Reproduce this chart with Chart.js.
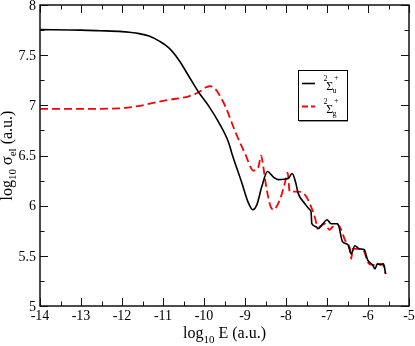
<!DOCTYPE html>
<html>
<head>
<meta charset="utf-8">
<script src="https://cdn.jsdelivr.net/npm/chart.js@4/dist/chart.umd.min.js"></script>
<style>
  body { margin: 0; background: #fff; }
  canvas { display: block; }
</style>
</head>
<body>
<canvas id="crossChart" width="415" height="346"></canvas>
<script>
// 2Sigma_u+ (solid black)
const blackX = [-14, -13, -12.55, -12, -11.82, -11.58, -11.34, -11.09, -10.85, -10.61, -10.37, -10.13, -9.88, -9.64, -9.40,
  -9.32, -9.08, -8.92, -8.81, -8.71, -8.59, -8.45, -8.32, -8.19, -7.95, -7.85, -7.77, -7.70, -7.54, -7.42,
  -7.39, -7.37, -7.26, -7.22, -7.10, -7.00, -6.90, -6.74, -6.62, -6.49, -6.41, -6.32, -6.21, -6.09, -6.01,
  -5.89, -5.83, -5.77, -5.69, -5.62, -5.57];
const blackY = [7.755, 7.75, 7.744, 7.735, 7.728, 7.715, 7.69, 7.64, 7.57, 7.45, 7.29, 7.13, 6.99, 6.83, 6.63,
  6.52, 6.23, 6.03, 5.96, 6.01, 6.19, 6.34, 6.29, 6.26, 6.27, 6.32, 6.24, 6.12, 6.02, 5.96,
  5.94, 5.82, 5.79, 5.77, 5.82, 5.86, 5.82, 5.82, 5.64, 5.61, 5.52, 5.60, 5.57, 5.56, 5.46,
  5.41, 5.37, 5.42, 5.41, 5.42, 5.32];

// 2Sigma_g+ (dashed red)
const redX = [-14, -13, -12.06, -11.58, -10.93, -10.37, -10.13, -9.95, -9.84, -9.74, -9.68, -9.48, -9.24,
  -9.00, -8.79, -8.67, -8.61, -8.55, -8.51, -8.39, -8.31, -8.15, -8.03, -7.96, -7.91, -7.70, -7.54, -7.42,
  -7.30, -7.24, -7.18, -7.06, -6.94, -6.86, -6.74, -6.54, -6.43, -6.41, -6.37, -6.21, -6.09, -6.01,
  -5.89, -5.80, -5.73, -5.65, -5.57];
const redY = [6.965, 6.965, 6.97, 6.995, 7.05, 7.09, 7.13, 7.18, 7.19, 7.17, 7.14, 6.99, 6.74,
  6.52, 6.35, 6.39, 6.50, 6.38, 6.26, 6.01, 5.96, 6.06, 6.22, 6.33, 6.14, 6.14, 6.11, 6.02,
  5.89, 5.80, 5.79, 5.82, 5.76, 5.79, 5.81, 5.64, 5.55, 5.47, 5.57, 5.57, 5.54, 5.44,
  5.41, 5.41, 5.42, 5.42, 5.32];

const xTicks = [-14, -13, -12, -11, -10, -9, -8, -7, -6, -5];
const xTickLabels = ['-14', '-13', '-12', '-11', '-10', '-9', '-8', '-7', '-6', '-5'];
const yTicks = [5, 5.5, 6, 6.5, 7, 7.5, 8];
const yTickLabels = ['5', '5.5', '6', '6.5', '7', '7.5', '8'];

const xTitle = [['log', ''], ['10', 'sub'], [' E (a.u.)', '']];
const yTitle = [['log', ''], ['10', 'sub'], [' σ', ''], ['el', 'sub'], [' (a.u.)', '']];
const legendSubs = ['u', 'g'];

const serif = '"Liberation Serif", "DejaVu Serif", serif';

function toPoints(xs, ys) {
  return xs.map((x, i) => ({ x: x, y: ys[i] }));
}

function partFont(kind, size) {
  return (kind ? Math.round(size * 0.68) : size) + 'px ' + serif;
}

function partsWidth(ctx, parts, size) {
  let w = 0;
  parts.forEach(p => { ctx.font = partFont(p[1], size); w += ctx.measureText(p[0]).width; });
  return w;
}

function drawParts(ctx, parts, x, y, size) {
  parts.forEach(p => {
    ctx.font = partFont(p[1], size);
    const dy = p[1] === 'sub' ? size * 0.3 : (p[1] === 'sup' ? -size * 0.4 : 0);
    ctx.fillText(p[0], x, y + dy);
    x += ctx.measureText(p[0]).width;
  });
}

const framePlugin = {
  id: 'frame',
  afterDatasetsDraw(chart) {
    const { ctx, chartArea: a, scales } = chart;
    const sx = scales.x, sy = scales.y;
    ctx.save();
    ctx.strokeStyle = '#111';
    ctx.lineWidth = 1.5;
    ctx.setLineDash([]);
    ctx.strokeRect(a.left, a.top, a.right - a.left, a.bottom - a.top);

    // ticks on all four sides, minor ticks halfway
    ctx.lineWidth = 1;
    ctx.beginPath();
    xTicks.forEach((v, i) => {
      const px = Math.round(sx.getPixelForValue(v)) + 0.5;
      ctx.moveTo(px, a.bottom); ctx.lineTo(px, a.bottom - 8);
      ctx.moveTo(px, a.top); ctx.lineTo(px, a.top + 8);
      if (i < xTicks.length - 1) {
        const mx = Math.round(sx.getPixelForValue((v + xTicks[i + 1]) / 2)) + 0.5;
        ctx.moveTo(mx, a.bottom); ctx.lineTo(mx, a.bottom - 4.5);
        ctx.moveTo(mx, a.top); ctx.lineTo(mx, a.top + 4.5);
      }
    });
    yTicks.forEach((v, i) => {
      const py = Math.round(sy.getPixelForValue(v)) + 0.5;
      ctx.moveTo(a.left, py); ctx.lineTo(a.left + 8, py);
      ctx.moveTo(a.right, py); ctx.lineTo(a.right - 8, py);
      if (i < yTicks.length - 1) {
        const my = Math.round(sy.getPixelForValue((v + yTicks[i + 1]) / 2)) + 0.5;
        ctx.moveTo(a.left, my); ctx.lineTo(a.left + 4.5, my);
        ctx.moveTo(a.right, my); ctx.lineTo(a.right - 4.5, my);
      }
    });
    ctx.stroke();

    // tick labels
    ctx.fillStyle = '#000';
    ctx.font = '14px ' + serif;
    ctx.textAlign = 'center';
    ctx.textBaseline = 'alphabetic';
    xTicks.forEach((v, i) => ctx.fillText(xTickLabels[i], sx.getPixelForValue(v), a.bottom + 14));
    ctx.textAlign = 'right';
    ctx.textBaseline = 'middle';
    yTicks.forEach((v, i) => ctx.fillText(yTickLabels[i], a.left - 4, sy.getPixelForValue(v) + 1));

    // axis titles
    ctx.textAlign = 'left';
    ctx.textBaseline = 'alphabetic';
    const tw = partsWidth(ctx, xTitle, 16);
    drawParts(ctx, xTitle, (a.left + a.right) / 2 - tw / 2, 338, 16);
    ctx.save();
    ctx.translate(11.5, (a.top + a.bottom) / 2);
    ctx.rotate(-Math.PI / 2);
    const yw = partsWidth(ctx, yTitle, 16);
    drawParts(ctx, yTitle, -yw / 2, 0, 16);
    ctx.restore();

    // legend box with drop shadow
    const lx = 298, ly = 70, lw = 49, lh = 50;
    ctx.fillStyle = '#999';
    ctx.fillRect(lx + 1, ly + lh, lw, 2);
    ctx.fillStyle = '#fff';
    ctx.fillRect(lx, ly, lw, lh);
    ctx.strokeStyle = '#000';
    ctx.lineWidth = 1;
    ctx.strokeRect(lx + 0.5, ly + 0.5, lw, lh);

    chart.data.datasets.forEach((ds, i) => {
      const yy = 83.5 + i * 23;
      ctx.strokeStyle = ds.borderColor;
      ctx.lineWidth = ds.borderWidth;
      ctx.setLineDash(i === 1 ? [6, 3] : []);
      ctx.beginPath();
      ctx.moveTo(302, yy); ctx.lineTo(315, yy);
      ctx.stroke();
      ctx.setLineDash([]);
      ctx.fillStyle = '#000';
      ctx.font = '8px ' + serif;
      ctx.fillText('2', 323.5, yy - 2.5);
      ctx.font = '12px ' + serif;
      ctx.fillText('Σ', 326.3, yy + 6.7);
      ctx.font = '8px ' + serif;
      ctx.fillText(legendSubs[i], 332.5, yy + 9);
      ctx.fillText('+', 334, yy - 3.8);
    });
    ctx.restore();
  }
};

new Chart(document.getElementById('crossChart').getContext('2d'), {
  type: 'scatter',
  data: {
    datasets: [{
      label: '²Σu⁺',
      data: toPoints(blackX, blackY),
      showLine: true,
      borderColor: '#000000',
      borderWidth: 1.6,
      pointRadius: 0,
      cubicInterpolationMode: 'monotone'
    }, {
      label: '²Σg⁺',
      data: toPoints(redX, redY),
      showLine: true,
      borderColor: '#ff0000',
      borderWidth: 1.8,
      borderDash: [8, 4],
      pointRadius: 0,
      cubicInterpolationMode: 'monotone'
    }]
  },
  options: {
    responsive: false,
    animation: false,
    layout: { padding: { left: 40, right: 6, top: 5, bottom: 40 } },
    plugins: { legend: { display: false }, tooltip: { enabled: false } },
    scales: {
      x: { type: 'linear', min: -14, max: -5, display: false },
      y: { type: 'linear', min: 5, max: 8, display: false }
    }
  },
  plugins: [framePlugin]
});
</script>
</body>
</html>
